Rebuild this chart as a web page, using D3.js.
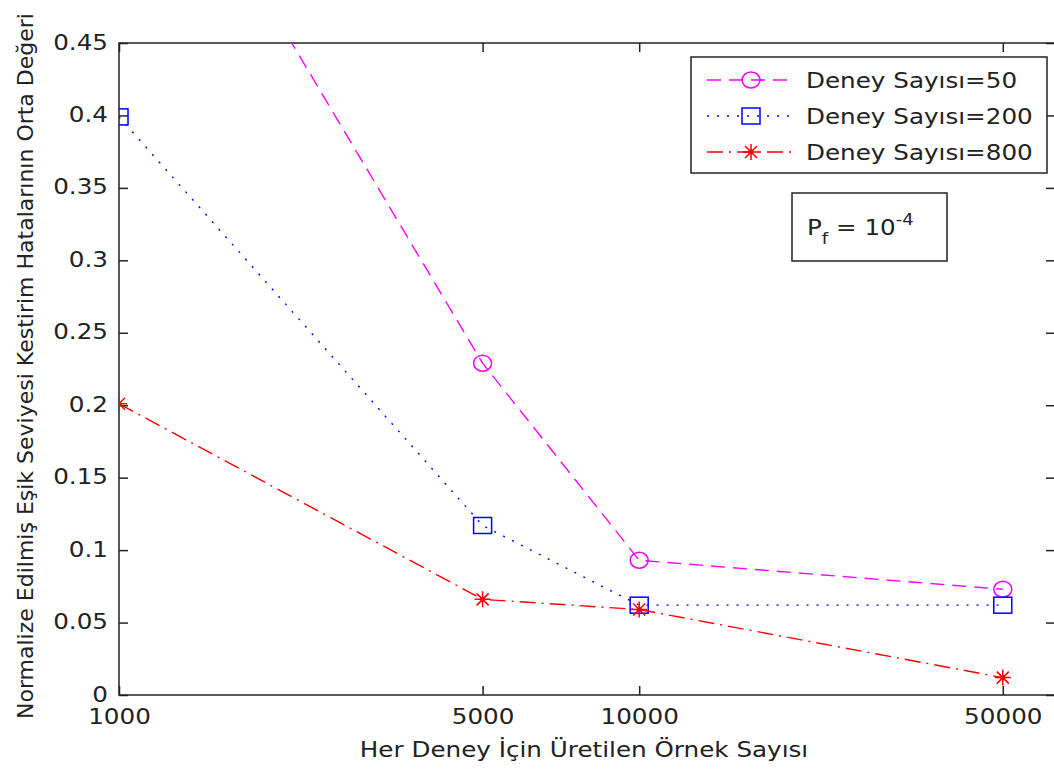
<!DOCTYPE html>
<html>
<head>
<meta charset="utf-8">
<script src="https://cdn.jsdelivr.net/npm/d3@7"></script>
<style>
  body { margin: 0; background: #fff; }
  text { font-family: "DejaVu Sans", sans-serif; fill: #222; }
</style>
</head>
<body>
<div id="chart"></div>
<script>
// Data
const sampleSizes = [1000, 5000, 10000, 50000];
const deney50 = [0.65, 0.229, 0.093, 0.073];
const deney200 = [0.399, 0.117, 0.062, 0.062];
const deney800 = [0.201, 0.066, 0.059, 0.012];
const seriesNames = ["Deney Sayısı=50", "Deney Sayısı=200", "Deney Sayısı=800"];
const yTickValues = [0, 0.05, 0.1, 0.15, 0.2, 0.25, 0.3, 0.35, 0.4, 0.45];
const xTickValues = [1000, 5000, 10000, 50000];
const xLimits = [1000, 63000];
const yLimits = [0, 0.45];

const W = 1054, H = 771;
const plot = { left: 119, top: 43, right: 1055, bottom: 695 };
const stretch = 1.12; // the original picture is a bit wider than tall

const series = [
    { name: seriesNames[0], values: deney50, color: "#ff00ff", dash: "14,8", marker: "circle" },
    { name: seriesNames[1], values: deney200, color: "#0000ff", dash: "2,8", marker: "square" },
    { name: seriesNames[2], values: deney800, color: "#ff0000", dash: "16,6,2,6", marker: "star" }
];

const svg = d3.select("#chart").append("svg")
    .attr("width", W)
    .attr("height", H);

const x = d3.scaleLog().domain(xLimits).range([plot.left, plot.right]);
const y = d3.scaleLinear().domain(yLimits).range([plot.bottom, plot.top]);

svg.append("clipPath").attr("id", "clip")
    .append("rect")
    .attr("x", plot.left).attr("y", plot.top)
    .attr("width", plot.right - plot.left)
    .attr("height", plot.bottom - plot.top);

// Axes (ticks point inwards, MATLAB style)
const yAxis = svg.append("g")
    .attr("transform", `translate(${plot.left},0)`)
    .call(d3.axisLeft(y).tickValues(yTickValues).tickFormat(d3.format("")).tickSize(-9).tickSizeOuter(0).tickPadding(11));
yAxis.selectAll("text")
    .attr("x", 0)
    .attr("transform", `translate(-11,-1) scale(${stretch},1)`);

const xAxis = svg.append("g")
    .attr("transform", `translate(0,${plot.bottom})`)
    .call(d3.axisBottom(x).tickValues(xTickValues).tickFormat(d3.format("")).tickSize(-9).tickSizeOuter(0).tickPadding(12));
xAxis.selectAll("text")
    .attr("y", 0)
    .attr("transform", `translate(0,13) scale(${stretch},1)`);

svg.append("g")
    .attr("transform", `translate(${plot.right},0)`)
    .call(d3.axisRight(y).tickValues(yTickValues).tickFormat("").tickSize(-9).tickSizeOuter(0));
svg.append("g")
    .attr("transform", `translate(0,${plot.top})`)
    .call(d3.axisTop(x).tickValues(xTickValues).tickFormat("").tickSize(-9).tickSizeOuter(0));

svg.selectAll(".domain").remove();
svg.selectAll(".tick line").attr("stroke", "#222").attr("stroke-width", 1.5);
svg.selectAll(".tick text").style("font-size", "22px").style("font-family", "DejaVu Sans").attr("fill", "#222");

svg.append("rect")
    .attr("x", plot.left).attr("y", plot.top)
    .attr("width", plot.right - plot.left)
    .attr("height", plot.bottom - plot.top)
    .attr("fill", "none")
    .attr("stroke", "#222")
    .attr("stroke-width", 1.5);

// Axis titles
svg.append("text")
    .attr("transform", `translate(584,757) scale(${stretch},1)`)
    .attr("text-anchor", "middle")
    .style("font-size", "22px")
    .text("Her Deney İçin Üretilen Örnek Sayısı");

svg.append("text")
    .attr("transform", "translate(33,366) rotate(-90)")
    .attr("text-anchor", "middle")
    .style("font-size", "22px")
    .text("Normalize Edilmiş Eşik Seviyesi Kestirim Hatalarının Orta Değeri");

// Marker drawing
const drawMarker = (g, type, color) => {
    if (type === "circle") {
        g.append("ellipse").attr("rx", 9).attr("ry", 8)
            .attr("fill", "none").attr("stroke", color).attr("stroke-width", 1.5);
    } else if (type === "square") {
        g.append("rect").attr("x", -9).attr("y", -8).attr("width", 18).attr("height", 16)
            .attr("fill", "none").attr("stroke", color).attr("stroke-width", 1.5);
    } else {
        g.append("path")
            .attr("d", "M-8,0H8M0,-8V8M-6,-6L6,6M-6,6L6,-6")
            .attr("stroke", color).attr("stroke-width", 1.5);
        g.append("circle").attr("r", 2.5).attr("fill", color);
    }
};

const line = d3.line()
    .x(d => x(d[0]))
    .y(d => y(d[1]));

const plotArea = svg.append("g").attr("clip-path", "url(#clip)");

series.forEach(s => {
    const pts = sampleSizes.map((n, i) => [n, s.values[i]]);
    plotArea.append("path")
        .datum(pts)
        .attr("d", line)
        .attr("fill", "none")
        .attr("stroke", s.color)
        .attr("stroke-width", 1.4)
        .attr("stroke-dasharray", s.dash);
    pts.forEach(p => {
        const g = plotArea.append("g").attr("transform", `translate(${x(p[0])},${y(p[1])})`);
        drawMarker(g, s.marker, s.color);
    });
});

// Legend
const legend = svg.append("g");
legend.append("rect")
    .attr("x", 691).attr("y", 57).attr("width", 356).attr("height", 116)
    .attr("fill", "#fff").attr("stroke", "#222").attr("stroke-width", 1.5);

series.forEach((s, i) => {
    const ly = 80 + i * 36;
    legend.append("line")
        .attr("x1", 707).attr("x2", 795).attr("y1", ly).attr("y2", ly)
        .attr("stroke", s.color).attr("stroke-width", 1.4)
        .attr("stroke-dasharray", s.dash);
    const g = legend.append("g").attr("transform", `translate(751,${ly})`);
    drawMarker(g, s.marker, s.color);
    legend.append("text")
        .attr("transform", `translate(806,${ly}) scale(${stretch},1)`)
        .attr("dy", "0.36em")
        .style("font-size", "22px")
        .text(s.name);
});

// Annotation box: Pf = 10^-4
svg.append("rect")
    .attr("x", 792).attr("y", 193).attr("width", 155).attr("height", 68)
    .attr("fill", "#fff").attr("stroke", "#222").attr("stroke-width", 1.5);
const note = svg.append("text")
    .attr("transform", `translate(807,235) scale(${stretch},1)`)
    .style("font-size", "22px");
note.append("tspan").text("P");
note.append("tspan").attr("dy", 9).style("font-size", "16px").text("f");
note.append("tspan").attr("dy", -9).text(" = 10");
note.append("tspan").attr("dy", -10).style("font-size", "16px").text("-4");
</script>
</body>
</html>
